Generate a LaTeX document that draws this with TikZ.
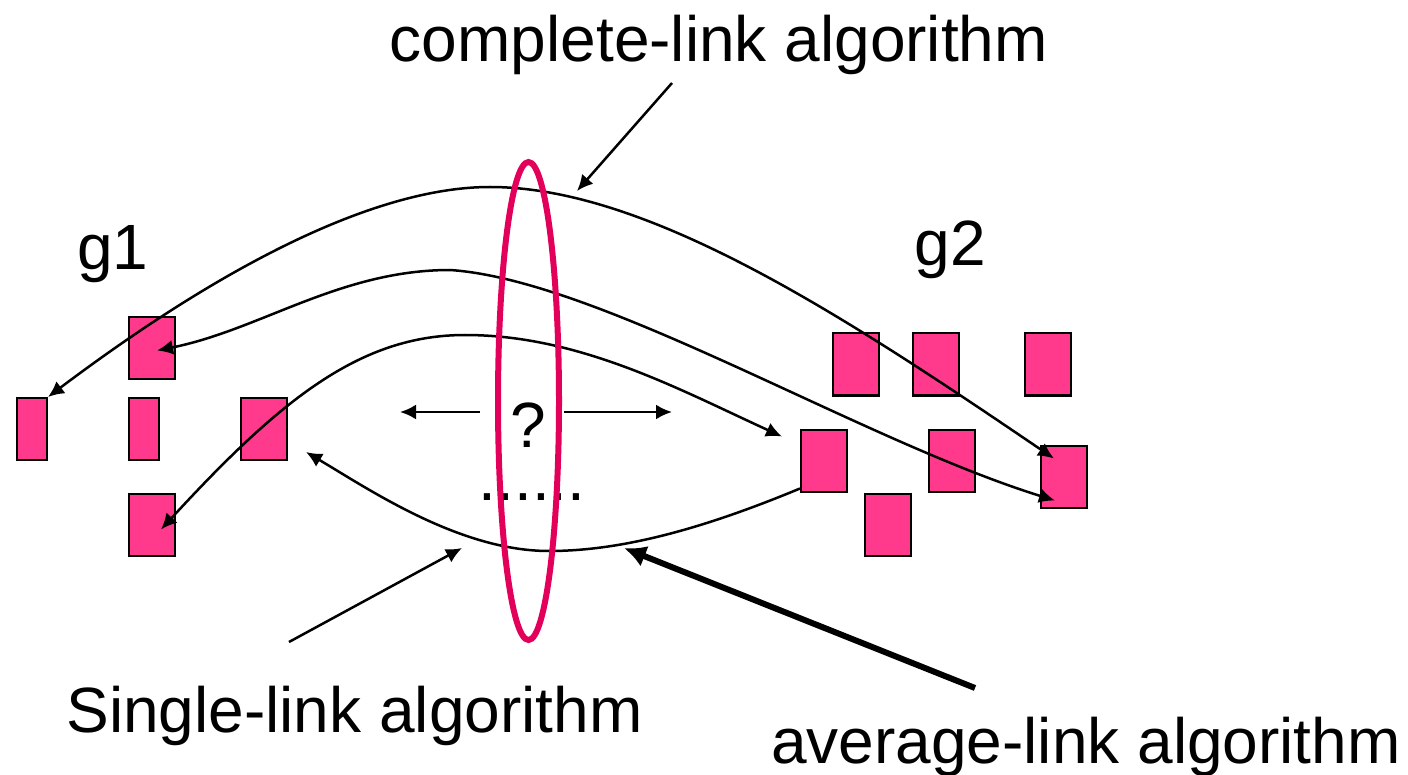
\documentclass[tikz,border=0pt]{standalone}
\usepackage{fontspec}
\setmainfont{Liberation Sans}
\usetikzlibrary{arrows.meta,calc}
\definecolor{boxpink}{RGB}{255,58,140}
\definecolor{ringred}{RGB}{226,0,90}
\tikzset{
  item/.style={rectangle,draw,fill=boxpink,line width=2pt,minimum width=46pt,minimum height=62pt,inner sep=0pt},
  thinitem/.style={item,minimum width=30pt},
  txt/.style={font=\fontsize{64}{70}\selectfont,inner sep=0pt,anchor=base},
  twoway/.style={draw,line width=2.5pt,{Latex[length=16pt,width=15pt]}-{Latex[length=16pt,width=15pt]}},
  oneway/.style={draw,line width=2.5pt,-{Latex[length=16pt,width=15pt]}},
  heavy/.style={draw,line width=6pt,-{Latex[length=22pt,width=22pt]}}
}

\begin{document}
\begin{tikzpicture}[x=1pt,y=-1pt]
  \useasboundingbox (0,0) rectangle (1408,775);

  % group g1
  \node[thinitem] (r1) at (32,429) {};
  \node[item]     (r2) at (152,348.5) {};
  \node[thinitem] (r3) at (144,429) {};
  \node[item]     (r4) at (264,429) {};
  \node[item]     (r5) at (152,524.5) {};

  % group g2
  \node[item] (s1) at (856,364.5) {};
  \node[item] (s2) at (936,364.5) {};
  \node[item] (s3) at (1048,364.5) {};
  \node[item] (s4) at (824,460.5) {};
  \node[item] (s5) at (952,460.5) {};
  \node[item] (s6) at (1064,476.5) {};
  \node[item] (s7) at (888,524.5) {};

  \node[txt] (g1) at (113,270) {g1};
  \node[txt] (g2) at (950,266) {g2};
  \node[txt] (q) at (528,447) {?};
  \node[txt,text height=8pt] (dots) at (532,500) {......};

  \node[txt] (complete) at (719,62) {complete-link algorithm};
  \node[txt] (single) at (354.5,732) {Single-link algorithm};
  \node[txt] (average) at (1086,763) {average-link algorithm};

  % distances between the groups
  \draw[twoway] (r1.north east) .. controls (230,260) and (380,187) .. (490,187)
    .. controls (650,187) and (850,320) .. ($(s6.north west)+(14,14)$);
  \draw[twoway] ($(r2.center)+(5,2)$) .. controls (260,330) and (340,270) .. (450,270)
    .. controls (600,280) and (860,440) .. ($(s6.center)+(-9,24)$);
  \draw[twoway] ($(r5.center)+(9,5)$) .. controls (280,400) and (360,335) .. (465,335)
    .. controls (580,335) and (680,390) .. ($(s4.north west)+(-18,8)$);
  \draw[oneway] ($(s4.south west)+(0,-4)$) .. controls (700,530) and (620,551) .. (549,551)
    .. controls (460,551) and (370,490) .. ($(r4.south east)+(18,-9)$);

  % arrows beside the question mark
  \coordinate (qlt) at (480,412);
  \coordinate (qlh) at (400,412);
  \coordinate (qrt) at (564,412);
  \coordinate (qrh) at (672,412);
  \draw[oneway] (qlt) -- (qlh);
  \draw[oneway] (qrt) -- (qrh);

  % pointers from the labels
  \coordinate (ct) at (672,83);
  \coordinate (ch) at (577,191);
  \coordinate (st) at (289,642);
  \coordinate (sh) at (462,548);
  \coordinate (at) at (975,688);
  \coordinate (ah) at (624,548);
  \draw[oneway] (ct) -- (ch);
  \draw[oneway] (st) -- (sh);
  \draw[heavy] (at) -- (ah);

  \draw[ringred,line width=6pt] (528.5,401) ellipse (30.5 and 239);
\end{tikzpicture}
\end{document}
